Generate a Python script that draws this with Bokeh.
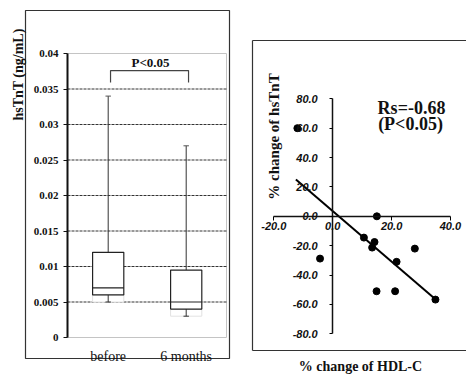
import math
from bokeh.plotting import figure
from bokeh.layouts import row
from bokeh.models import Range1d, FixedTicker, Label
from bokeh.embed import file_html
from bokeh.resources import INLINE

# ---------------- data ----------------
groups = ["before", "6 months"]
group_pos = [1, 2]
whisker_low = [0.005, 0.003]
q1 = [0.006, 0.004]
median = [0.007, 0.005]
q3 = [0.012, 0.0095]
whisker_high = [0.034, 0.027]

y_ticks_left = [0, 0.005, 0.01, 0.015, 0.02, 0.025, 0.03, 0.035, 0.04]
y_tick_labels_left = ["0", "0.005", "0.01", "0.015", "0.02", "0.025", "0.03", "0.035", "0.04"]
grid_levels = [0.005, 0.01, 0.015, 0.02, 0.025, 0.03, 0.035]

bracket_x = [1.03, 1.03, 2.03, 2.03]
bracket_y = [0.0359, 0.0376, 0.0376, 0.0359]

hdl_change = [-12.0, -4.3, 15.0, 10.6, 14.2, 13.4, 27.9, 21.7, 14.9, 21.2, 34.9]
tnt_change = [60.0, -28.8, 0.0, -14.5, -17.5, -21.3, -22.0, -31.0, -51.0, -51.0, -56.7]
trend_x = [-12.5, 35.0]
trend_y = [25.0, -56.7]

x_ticks_right = [-20, 0, 20, 40]
x_tick_labels_right = ["-20.0", "0.0", "20.0", "40.0"]
y_ticks_right = [-80, -60, -40, -20, 0, 20, 40, 60, 80]
y_tick_labels_right = ["-80.0", "-60.0", "-40.0", "-20.0", "0.0", "20.0", "40.0", "60.0", "80.0"]

SERIF = "Liberation Serif"
SANS = "Liberation Sans"
H = 374

# ---------------- left panel (box plot) ----------------
W1 = 240
L_X1, L_SX = 107.7, 78.0       # page x of group 1, px per unit
L_Y0, L_SY = 337.0, 7100.0     # page y of value 0, px per unit
lx = lambda px: 1 + (px - L_X1) / L_SX
ly = lambda py: (L_Y0 - py) / L_SY

p1 = figure(width=W1, height=H,
            x_range=Range1d(lx(0), lx(W1)), y_range=Range1d(ly(H), ly(0)),
            output_backend="svg", toolbar_location=None,
            min_border_left=0, min_border_right=0, min_border_top=0, min_border_bottom=0,
            outline_line_color=None,
            background_fill_color="white", border_fill_color="white")
p1.xgrid.visible = False
p1.ygrid.visible = False

# outer panel box
p1.quad(left=[lx(25)], right=[lx(229)], bottom=[ly(358)], top=[ly(10)],
        fill_color=None, line_color="#333333", line_width=1.2)

ax_left = lx(67)
ax_right = lx(226)

# plot-area border
p1.quad(left=[ax_left], right=[ax_right], bottom=[0], top=[0.04],
        fill_color=None, line_color="#c4c4c4", line_width=1)
# dashed gridlines
p1.segment(x0=[ax_left] * len(grid_levels), x1=[ax_right] * len(grid_levels),
           y0=grid_levels, y1=grid_levels, line_color="#333333", line_dash="3 1", line_width=1)

bw = 0.4
left_edges = [g - bw / 2 for g in group_pos]
right_edges = [g + bw / 2 for g in group_pos]
# faint lower bars
p1.quad(left=left_edges, right=right_edges, bottom=whisker_low, top=q1,
        fill_color="white", line_color="#e2e2e2", line_width=1)
# whiskers
p1.segment(x0=group_pos, x1=group_pos, y0=q3, y1=whisker_high, line_color="#333333", line_width=1)
p1.segment(x0=group_pos, x1=group_pos, y0=whisker_low, y1=q1, line_color="#333333", line_width=1)
cw = 0.035
p1.segment(x0=[g - cw for g in group_pos], x1=[g + cw for g in group_pos],
           y0=whisker_high, y1=whisker_high, line_color="#555555", line_width=1)
p1.segment(x0=[g - cw for g in group_pos], x1=[g + cw for g in group_pos],
           y0=whisker_low, y1=whisker_low, line_color="#333333", line_width=1)
# boxes
p1.quad(left=left_edges, right=right_edges, bottom=q1, top=q3,
        fill_color="white", line_color="#222222", line_width=1.2)
p1.segment(x0=left_edges, x1=right_edges, y0=median, y1=median, line_color="#222222", line_width=1.2)
# significance bracket
p1.line(bracket_x, bracket_y, line_color="#444444", line_width=1.2)
p1.add_layout(Label(x=lx(150), y=ly(62), text="P<0.05", text_font=SERIF,
                    text_font_style="bold", text_font_size="13px",
                    text_align="center", text_baseline="middle", text_color="#111111"))
p1.add_layout(Label(x=lx(17.5), y=ly(74), text="hsTnT (ng/mL)", text_font=SERIF,
                    text_font_style="bold", text_font_size="14px", angle=math.pi / 2,
                    text_align="center", text_baseline="middle", text_color="#111111"))

ya = p1.yaxis[0]
ya.fixed_location = ax_left
ya.bounds = (0, 0.04)
ya.ticker = FixedTicker(ticks=y_ticks_left)
ya.major_label_overrides = dict(zip(y_ticks_left, y_tick_labels_left))
ya.minor_tick_line_color = None
ya.major_tick_in = 0
ya.major_tick_out = 4
ya.axis_line_width = 2
ya.axis_line_color = "#111111"
ya.major_tick_line_color = "#111111"
ya.major_label_text_font = SERIF
ya.major_label_text_font_style = "bold"
ya.major_label_text_font_size = "11px"
ya.major_label_text_color = "#111111"
ya.major_label_standoff = 5

xa = p1.xaxis[0]
xa.fixed_location = 0
xa.ticker = FixedTicker(ticks=group_pos)
xa.major_label_overrides = dict(zip(group_pos, groups))
xa.axis_line_color = None
xa.major_tick_line_color = None
xa.minor_tick_line_color = None
xa.major_label_text_font = SERIF
xa.major_label_text_font_size = "14px"
xa.major_label_text_color = "#111111"
xa.major_label_standoff = 5

# ---------------- right panel (scatter) ----------------
X2 = 240
W2 = 466 - X2
R_X0, R_SX = 332.2, 2.944
R_Y0, R_SY = 215.8, 1.469
rx = lambda px: (px - R_X0) / R_SX
ry = lambda py: (R_Y0 - py) / R_SY

p2 = figure(width=W2, height=H,
            x_range=Range1d(rx(X2), rx(466)), y_range=Range1d(ry(H), ry(0)),
            output_backend="svg", toolbar_location=None,
            min_border_left=0, min_border_right=0, min_border_top=0, min_border_bottom=0,
            outline_line_color=None,
            background_fill_color="white", border_fill_color="white")
p2.xgrid.visible = False
p2.ygrid.visible = False

# panel frame (left, top, bottom edges)
bl, bt, bb, br = rx(252), ry(40), ry(350), rx(480)
p2.segment(x0=[bl, bl, bl], y0=[bb, bt, bb], x1=[bl, br, br], y1=[bt, bt, bb],
           line_color="#333333", line_width=1.2)

p2.line(trend_x, trend_y, line_color="black", line_width=2)
p2.scatter(hdl_change, tnt_change, size=7, color="black")

p2.add_layout(Label(x=rx(411), y=ry(107), text="Rs=-0.68", text_font=SERIF,
                    text_font_style="bold", text_font_size="18px",
                    text_align="center", text_baseline="middle", text_color="#111111"))
p2.add_layout(Label(x=rx(410), y=ry(123), text="(P<0.05)", text_font=SERIF,
                    text_font_style="bold", text_font_size="18px",
                    text_align="center", text_baseline="middle", text_color="#111111"))
p2.add_layout(Label(x=rx(273), y=ry(136), text="% change of hsTnT", text_font=SERIF,
                    text_font_style="bold", text_font_size="15px", angle=math.pi / 2,
                    text_align="center", text_baseline="middle", text_color="#111111"))
p2.add_layout(Label(x=rx(360), y=ry(366), text="% change of HDL-C", text_font=SERIF,
                    text_font_style="bold", text_font_size="14px",
                    text_align="center", text_baseline="middle", text_color="#111111"))

xb = p2.xaxis[0]
xb.fixed_location = 0
xb.bounds = (-20, 40)
xb.ticker = FixedTicker(ticks=x_ticks_right)
xb.major_label_overrides = dict(zip(x_ticks_right, x_tick_labels_right))
xb.minor_tick_line_color = None
xb.major_tick_in = 0
xb.major_tick_out = 4
xb.axis_line_width = 1.5
xb.axis_line_color = "#111111"
xb.major_label_text_font = SANS
xb.major_label_text_font_style = "bold italic"
xb.major_label_text_font_size = "11px"
xb.major_label_text_color = "#111111"
xb.major_label_standoff = 2

yb = p2.yaxis[0]
yb.fixed_location = 0
yb.bounds = (-80, 80)
yb.ticker = FixedTicker(ticks=y_ticks_right)
yb.major_label_overrides = dict(zip(y_ticks_right, y_tick_labels_right))
yb.minor_tick_line_color = None
yb.major_tick_in = 0
yb.major_tick_out = 3
yb.axis_line_width = 1.5
yb.axis_line_color = "#111111"
yb.major_label_text_font = SANS
yb.major_label_text_font_style = "bold italic"
yb.major_label_text_font_size = "11px"
yb.major_label_text_color = "#111111"
yb.major_label_standoff = 12

layout = row(p1, p2)
open("out.html", "w").write(file_html(layout, INLINE))
